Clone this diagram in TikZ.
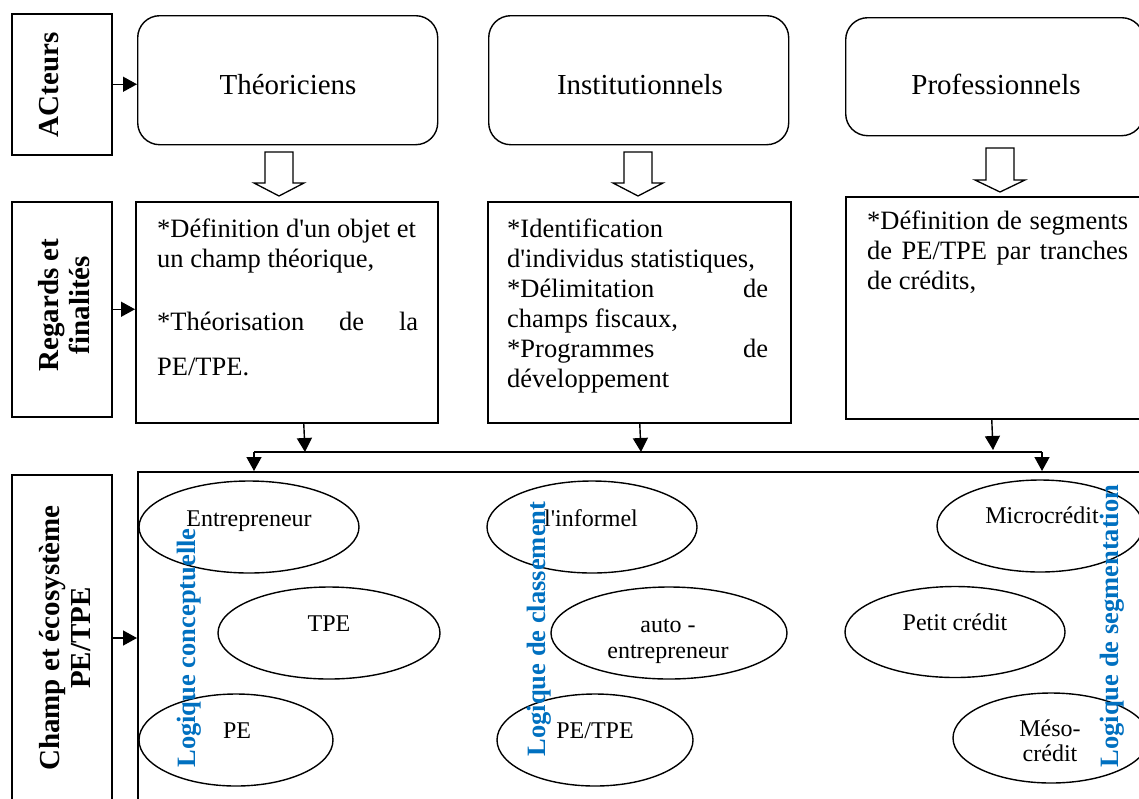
\documentclass[tikz,border=0pt]{standalone}
\usepackage{fontspec}
\setmainfont{Liberation Serif}
\usetikzlibrary{arrows.meta,shapes.geometric}
\definecolor{lblue}{RGB}{0,112,192}
\newcommand\hollowarr[4]{%
  \draw[hollow] (#1-14,#2) -- (#1+14,#2) -- (#1+14,#3) -- (#1+25,#3) -- (#1,#4) -- (#1-25,#3) -- (#1-14,#3) -- cycle;}
\newcommand\apos{\textquotesingle}
\begin{document}
\begin{tikzpicture}[x=1pt,y=-1pt,
  box/.style={draw,line width=1.5pt,inner sep=0pt,anchor=north west},
  rbox/.style={draw,line width=1.4pt,rounded corners=22pt,inner sep=0pt,anchor=north west},
  ell/.style={draw,ellipse,line width=1.4pt,inner sep=0pt},
  lab/.style={font=\fontsize{29}{31}\selectfont\bfseries,rotate=90,align=center,inner sep=0pt},
  logic/.style={font=\fontsize{26.5}{28}\selectfont\bfseries,text=lblue,rotate=90,inner sep=0pt},
  act/.style={font=\fontsize{29}{32}\selectfont,anchor=base,inner sep=0pt},
  body/.style={font=\fontsize{26.5}{30}\selectfont,text width=261pt,align=justify,anchor=base west,inner sep=0pt},
  etxt/.style={font=\fontsize{24}{25}\selectfont,anchor=base,inner sep=0pt},
  arr/.style={-{Triangle[width=15pt,length=14pt]},line width=1.4pt},
  hollow/.style={draw,line width=1.3pt,fill=white}
]
\useasboundingbox (0,0) rectangle (1139,798);
\fill[white] (0,0) rectangle (1139,798);
\clip (0,0) rectangle (1139,798);

% left label boxes
\node[box,minimum width=100,minimum height=141] (acl) at (11,13) {};
\node[box,minimum width=100,minimum height=215] (rl) at (11,201) {};
\node[box,minimum width=100,minimum height=400] (cl) at (11,474) {};
\node[lab] (aclt) at (49,85) {ACteurs};
\node[lab] (rlt) at (64,305) {Regards et\\finalités};
\node[lab] (clt) at (65,638) {Champ et écosystème\\PE/TPE};

% actors
\node[rbox,minimum width=300,minimum height=129] (th) at (137,15) {};
\node[rbox,minimum width=300,minimum height=129] (in) at (488,15) {};
\node[rbox,minimum width=298,minimum height=118] (pr) at (845,17) {};
\node[act] (tht) at (288,94) {Théoriciens};
\node[act] (int) at (640,94) {Institutionnels};
\node[act] (prt) at (996,94) {Professionnels};

% hollow arrows
\hollowarr{279}{152}{183}{196}
\hollowarr{638}{152}{183}{196}
\hollowarr{1000}{148}{180}{192}

% text boxes
\node[box,minimum width=302,minimum height=221] (t1) at (135,201) {};
\node[box,minimum width=303,minimum height=221] (t2) at (487,201) {};
\node[box,minimum width=300,minimum height=222] (t3) at (845,196) {};
\node[body] (t1t) at (157,237) {*Définition d\apos un objet et\\{}un champ théorique,\\[33pt]{}*Théorisation\hfill de\hfill la\\[15pt]{}PE/TPE.};
\node[body] (t2t) at (507,237) {*Identification\\{}d\apos individus statistiques,\\{}*Délimitation\hfill de\\{}champs fiscaux,\\{}*Programmes\hfill de\\{}développement};
\node[body] (t3t) at (867,229) {*Définition\hfill de\hfill segments\\{}de\hfill PE/TPE\hfill par\hfill tranches\\{}de crédits,};

% big box
\node[box,minimum width=1100,minimum height=400] (big) at (137,471) {};

% left arrows
\draw[arr] (acl.east) -- (acl.east -| th.west);
\draw[arr] (rl.east) -- (rl.east -| t1.west);
\draw[arr] (cl.east |- clt.center) -- (big.west |- clt.center);

% connectors to the field
\coordinate (j1) at (305,452);
\coordinate (j2) at (641,452);
\coordinate (j3) at (993,450);
\coordinate (hl) at (254,452);
\coordinate (hr) at (1042,452);
\draw[arr] ([xshift=17pt]t1.south) -- (j1);
\draw[arr] ([xshift=0.5pt]t2.south) -- (j2);
\draw[arr] ([xshift=-4pt]t3.south) -- (j3);
\draw[line width=1.4pt] (hl) -- (hr);
\draw[arr] (hl) -- (hl |- big.north);
\draw[arr] (hr) -- (hr |- big.north);

% ellipses
\node[ell,minimum width=220,minimum height=92] (e1) at (249,527) {};
\node[ell,minimum width=222,minimum height=92] (e2) at (329,633) {};
\node[ell,minimum width=194,minimum height=92] (e3) at (236,740) {};
\node[ell,minimum width=210,minimum height=92] (e4) at (592,527) {};
\node[ell,minimum width=236,minimum height=92] (e5) at (669,633) {};
\node[ell,minimum width=196,minimum height=92] (e6) at (595,740) {};
\node[ell,minimum width=206,minimum height=92] (e7) at (1040,526) {};
\node[ell,minimum width=220,minimum height=91] (e8) at (955,632) {};
\node[ell,minimum width=196,minimum height=90] (e9) at (1051,738) {};

\node[etxt] (e1t) at (249,526) {Entrepreneur};
\node[etxt] (e2t) at (329,631) {TPE};
\node[etxt] (e3t) at (237,738) {PE};
\node[etxt] (e4t) at (591,526) {l\apos informel};
\node[etxt] (e5t) at (668,632) {auto -};
\node[etxt] (e5u) at (668,658) {entrepreneur};
\node[etxt] (e6t) at (595,738) {PE/TPE};
\node[etxt] (e7t) at (1042,523) {Microcrédit};
\node[etxt] (e8t) at (955,630) {Petit crédit};
\node[etxt] (e9t) at (1050,736) {Méso-};
\node[etxt] (e9u) at (1050,761) {crédit};

% logic labels
\node[logic] (lg1) at (189,648) {Logique conceptuelle};
\node[logic] (lg2) at (539,629) {Logique de classement};
\node[logic] (lg3) at (1112,626) {Logique de segmentation};
\end{tikzpicture}
\end{document}
